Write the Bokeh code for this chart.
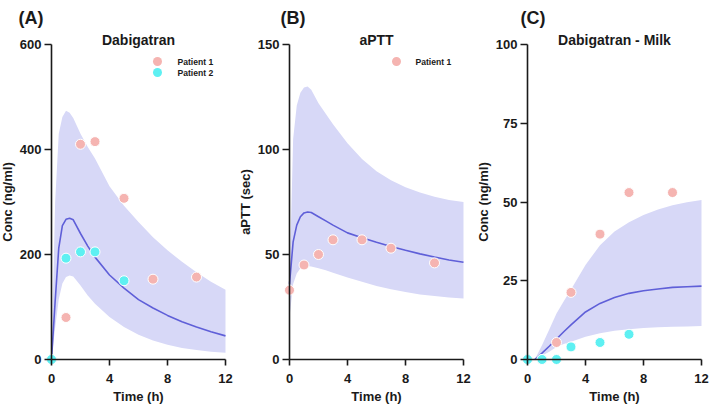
from bokeh.plotting import figure
from bokeh.models import Range1d, FixedTicker, Label
from bokeh.layouts import row
from bokeh.embed import file_html
from bokeh.resources import INLINE

# ---------------- data ----------------
time_grid = [0, 0.25, 0.5, 0.75, 1, 1.25, 1.5, 2, 2.5, 3, 4, 5, 6, 7, 8, 9, 10, 11, 12]

dabi_median = [0, 110, 212, 255, 267, 269, 266, 240, 216, 195, 161, 136, 114, 98, 84, 72, 62, 53, 45]
dabi_upper = [0, 300, 430, 462, 474, 470, 460, 430, 405, 383, 330, 293, 262, 233, 208, 186, 166, 148, 133]
dabi_lower = [0, 60, 115, 145, 157, 160, 158, 141, 122, 106, 81, 62, 47, 36, 28, 22, 18, 15, 13]

aptt_median = [36, 56, 64, 68, 69.8, 70.2, 70, 68, 66, 64, 60.3, 58, 55.8, 53.8, 52, 50.3, 48.8, 47.4, 46.3]
aptt_upper = [36, 105, 121, 127, 129.5, 130, 128.5, 122, 117, 112, 103, 95.5, 89.6, 85.3, 82, 79.5, 77.5, 76, 75]
aptt_lower = [20, 36, 41, 43.5, 44.3, 44.5, 44.3, 43.5, 42.5, 41.3, 39, 37, 35, 33.5, 32.2, 31, 30.2, 29.5, 29]

milk_time = [0.5, 1, 1.5, 2, 2.5, 3, 4, 5, 6, 7, 8, 9, 10, 11, 12]
milk_median = [0, 2, 4.2, 6.5, 8.8, 11, 15.1, 17.8, 19.7, 21, 21.8, 22.4, 22.9, 23.1, 23.3]
milk_upper = [0, 4.5, 9.5, 14.6, 18.5, 22.2, 30, 36.3, 40.6, 43.6, 45.9, 47.6, 49, 49.9, 50.6]
milk_lower = [0, 1.2, 2.5, 4, 4.9, 5.6, 7.2, 8.3, 9.1, 9.6, 10, 10.2, 10.4, 10.5, 10.6]

dabi_p1_t = [0, 1, 2, 3, 5, 7, 10]
dabi_p1 = [0, 80, 410, 415, 307, 153, 157]
dabi_p2_t = [0, 1, 2, 3, 5]
dabi_p2 = [0, 193, 205, 205, 150]

aptt_p1_t = [0, 1, 2, 3, 5, 7, 10]
aptt_p1 = [33, 45, 50, 57, 57, 53, 46]

milk_p1_t = [0, 1, 2, 3, 5, 7, 10]
milk_p1 = [0, 0, 5.4, 21.3, 39.8, 53, 53]
milk_p2_t = [0, 1, 2, 3, 5, 7]
milk_p2 = [0, 0, 0, 4.0, 5.4, 8.0]

x_ticks = [0, 4, 8, 12]
dabi_ticks = [0, 200, 400, 600]
aptt_ticks = [0, 50, 100, 150]
milk_ticks = [0, 25, 50, 75, 100]

series_names = ["Patient 1", "Patient 2"]

# ---------------- style ----------------
FONT = "Liberation Sans"
PINK = "#F5B4B1"
CYAN = "#5EF0F2"
BAND = "#D7D8F7"
LINE = "#5F5FD8"
AX = "#1a1a1a"

H = 407
AXIS_Y = 359          # canvas y (from top) of data value 0
PLOT_H = 315          # pixels between 0 and the top tick
PX_PER_H = 174 / 12   # pixels per hour


class Panel:
    """A figure whose frame fills the whole canvas; axes are pinned at data 0."""

    def __init__(self, fig_w, ax_x, y_max, y_ticks, ylabel):
        self.ax_x = ax_x
        self.ppu_y = PLOT_H / y_max
        xr = Range1d(-ax_x / PX_PER_H, (fig_w - ax_x) / PX_PER_H)
        yr = Range1d((AXIS_Y - H) / self.ppu_y, AXIS_Y / self.ppu_y)
        p = figure(width=fig_w, height=H, x_range=xr, y_range=yr,
                   output_backend="svg", toolbar_location=None,
                   min_border=0, min_border_left=0, min_border_right=0,
                   min_border_top=0, min_border_bottom=0)
        p.title.text = ""
        p.outline_line_color = None
        p.grid.visible = False
        p.background_fill_color = "white"
        p.border_fill_color = "white"

        p.xaxis.fixed_location = 0
        p.yaxis.fixed_location = 0
        p.xaxis.bounds = (0, 12)
        p.yaxis.bounds = (0, y_max)
        p.xaxis.ticker = FixedTicker(ticks=x_ticks)
        p.yaxis.ticker = FixedTicker(ticks=y_ticks)
        p.axis.minor_tick_line_color = None
        p.axis.axis_line_width = 1.6
        p.axis.axis_line_color = AX
        p.axis.major_tick_line_width = 1.6
        p.axis.major_tick_line_color = AX
        p.axis.major_tick_in = 0
        p.xaxis.major_tick_out = 6
        p.yaxis.major_tick_out = 7
        p.axis.major_label_text_font = FONT
        p.axis.major_label_text_font_style = "bold"
        p.axis.major_label_text_font_size = "13px"
        p.axis.major_label_text_color = AX
        p.xaxis.major_label_standoff = 8
        p.yaxis.major_label_standoff = 3
        p.xaxis.axis_label = "Time (h)"
        p.yaxis.axis_label = ylabel
        p.axis.axis_label_text_font = FONT
        p.axis.axis_label_text_font_style = "bold"
        p.axis.axis_label_text_font_size = "13px"
        p.axis.axis_label_text_color = AX
        p.xaxis.axis_label_standoff = 3
        p.yaxis.axis_label_standoff = 2
        self.p = p

    def dx(self, cx):
        return (cx - self.ax_x) / PX_PER_H

    def dy(self, cy):
        return (AXIS_Y - cy) / self.ppu_y

    def text(self, cx, cy, text, size, align="left", baseline="alphabetic"):
        self.p.add_layout(Label(x=self.dx(cx), y=self.dy(cy), text=text,
                                text_font=FONT, text_font_style="bold",
                                text_font_size=size, text_align=align,
                                text_baseline=baseline, text_color=AX))

    def legend(self, cx, cy0, step, text_x, colors, names):
        for i, (c, n) in enumerate(zip(colors, names)):
            cy = cy0 + i * step
            self.p.scatter(x=[self.dx(cx)], y=[self.dy(cy)], size=9,
                           fill_color=c, line_color=c, line_width=0)
            self.text(text_x, cy, n, "8.6px", "left", "middle")


# ---------------- panel A ----------------
A = Panel(237, 51, 600, dabi_ticks, "Conc (ng/ml)")
pA = A.p
pA.varea(x=time_grid, y1=dabi_lower, y2=dabi_upper, fill_color=BAND)
pA.line(x=time_grid, y=dabi_median, line_color=LINE, line_width=1.6)
pA.scatter(x=dabi_p1_t, y=dabi_p1, size=10, fill_color=PINK, line_color="white", line_width=1)
pA.scatter(x=dabi_p2_t, y=dabi_p2, size=10, fill_color=CYAN, line_color="white", line_width=1)
A.legend(157, 61, 11, 177, [PINK, CYAN], series_names)
A.text(138, 39.5, "Dabigatran", "14px", "center")
A.text(18, 17, "(A)", "18px")

# ---------------- panel B ----------------
B = Panel(237, 52, 150, aptt_ticks, "aPTT (sec)")
pB = B.p
pB.varea(x=time_grid, y1=aptt_lower, y2=aptt_upper, fill_color=BAND)
pB.line(x=time_grid, y=aptt_median, line_color=LINE, line_width=1.6)
pB.scatter(x=aptt_p1_t, y=aptt_p1, size=10, fill_color=PINK, line_color="white", line_width=1)
B.legend(159, 61, 11, 178, [PINK], series_names[:1])
B.text(139, 39.5, "aPTT", "14px", "center")
B.text(43, 17, "(B)", "18px")

# ---------------- panel C ----------------
C = Panel(235, 53, 100, milk_ticks, "Conc (ng/ml)")
pC = C.p
pC.varea(x=milk_time, y1=milk_lower, y2=milk_upper, fill_color=BAND)
pC.line(x=milk_time, y=milk_median, line_color=LINE, line_width=1.6)
pC.scatter(x=milk_p1_t, y=milk_p1, size=10, fill_color=PINK, line_color="white", line_width=1)
pC.scatter(x=milk_p2_t, y=milk_p2, size=10, fill_color=CYAN, line_color="white", line_width=1)
C.text(140, 39.5, "Dabigatran - Milk", "14px", "center")
C.text(46, 17, "(C)", "18px")

layout = row(pA, pB, pC)
open("out.html", "w").write(file_html(layout, INLINE))
